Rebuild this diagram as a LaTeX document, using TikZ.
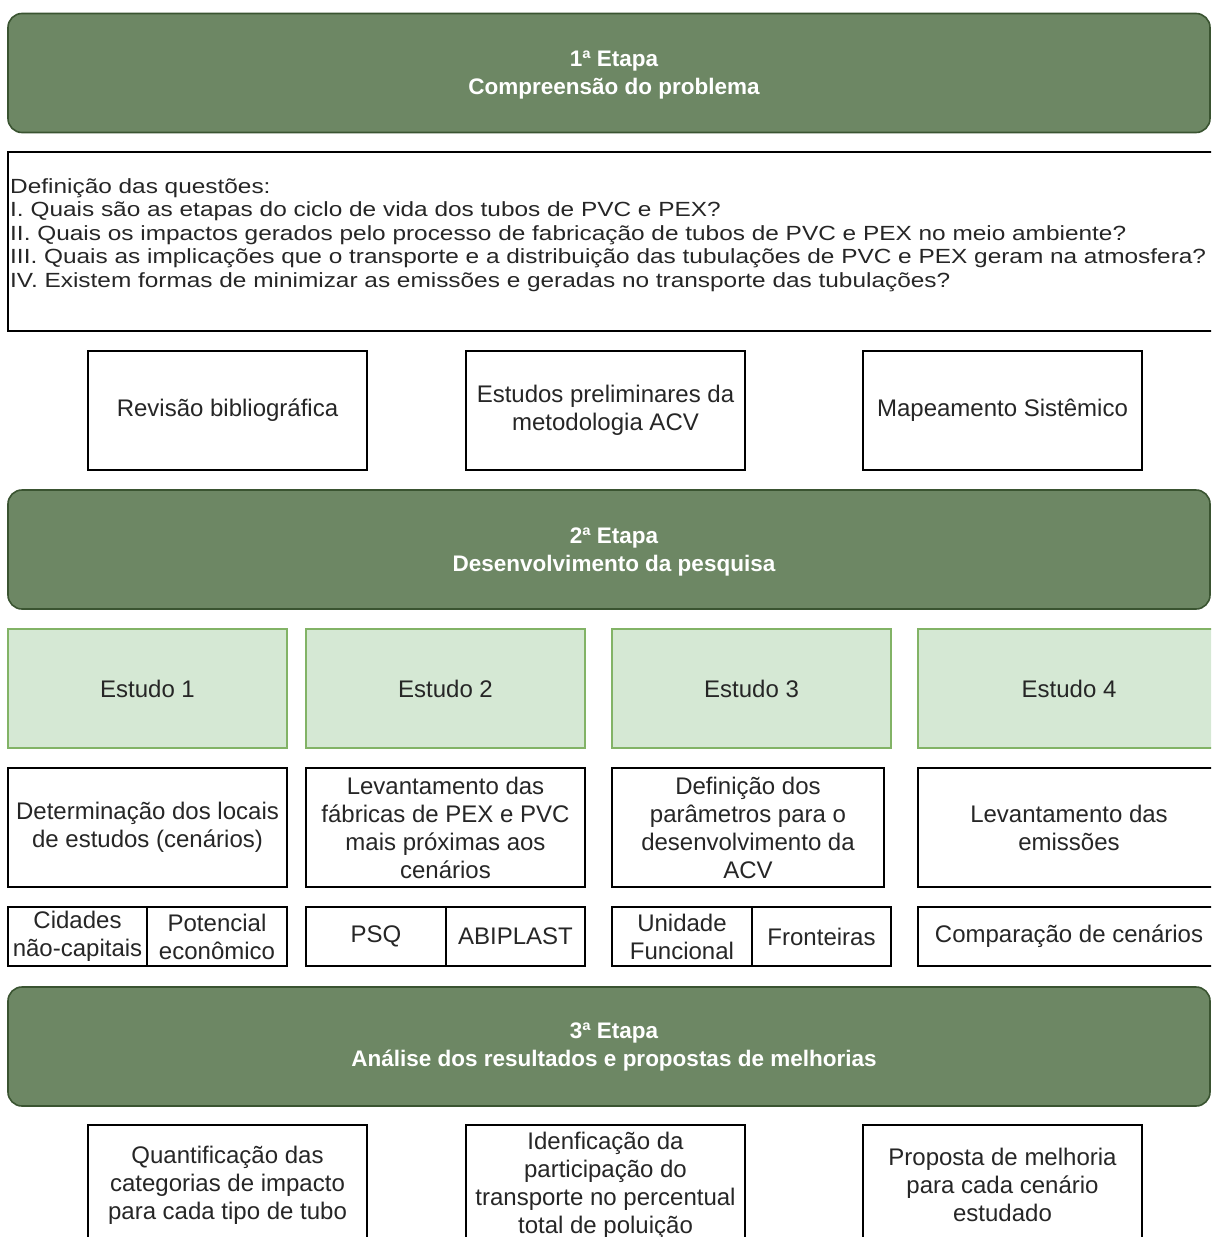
\documentclass[tikz,border=0pt]{standalone}
\usepackage{fontspec}
\setmainfont{Liberation Sans}
\newfontfamily\questionfont[FakeStretch=1.19]{Liberation Sans}
\definecolor{stagefill}{HTML}{6D8764}
\definecolor{stageline}{HTML}{3A5431}
\definecolor{studyfill}{HTML}{D5E8D4}
\definecolor{studyline}{HTML}{82B366}
\definecolor{ink}{HTML}{262626}
\begin{document}
\begin{tikzpicture}[x=1pt,y=-1pt,
  stage/.style={draw=stageline, fill=stagefill, line width=1.6pt, rounded corners=14pt,
    inner sep=0pt, minimum width=1202pt, minimum height=119pt},
  stagetext/.style={text=white, align=center, font=\bfseries\fontsize{22.5}{28}\selectfont},
  plainbox/.style={draw=black, fill=white, line width=1.8pt, align=center, inner sep=2pt,
    text=ink, font=\fontsize{24}{28}\selectfont},
  bigbox/.style={plainbox, minimum width=279pt, minimum height=119pt},
  study/.style={bigbox, draw=studyline, fill=studyfill, line width=1.4pt},
  subbox/.style={plainbox, minimum height=59pt}
]
\clip (0,0) rectangle (1211,1237);
\fill[white] (0,0) rectangle (1211,1237);

% Stage 1
\node[stage] (stage1) at (609,73) {};
\node[stagetext] (stage1t) at (614,75) {1ª Etapa\\Compreensão do problema};

% Research questions
\node[plainbox, minimum width=1208pt, minimum height=179pt] (questions) at (612,241.5) {};
\node[anchor=west, align=left, inner sep=0pt, text=ink,
      font=\questionfont\fontsize{20.5}{23.5}\selectfont] (qtext) at (10,235) {%
Definição das questões:\\
I. Quais são as etapas do ciclo de vida dos tubos de PVC e PEX?\\
II. Quais os impactos gerados pelo processo de fabricação de tubos de PVC e PEX no meio ambiente?\\
III. Quais as implicações que o transporte e a distribuição das tubulações de PVC e PEX geram na atmosfera?\\
IV. Existem formas de minimizar as emissões e geradas no transporte das tubulações?};

% Preliminary activities
\node[bigbox] (review) at (227.5,410.5) {Revisão bibliográfica};
\node[bigbox] (prelim) at (605.5,410.5) {Estudos preliminares da\\metodologia ACV};
\node[bigbox] (mapping) at (1002.5,410.5) {Mapeamento Sistêmico};

% Stage 2
\node[stage] (stage2) at (609,549.5) {};
\node[stagetext] (stage2t) at (614,551.5) {2ª Etapa\\Desenvolvimento da pesquisa};

% Studies
\node[study] (st1) at (147.5,688.5) {Estudo 1};
\node[study] (st2) at (445.5,688.5) {Estudo 2};
\node[study] (st3) at (751.5,688.5) {Estudo 3};
\node[study, minimum width=302pt] (st4) at (1069,688.5) {Estudo 4};

% Study descriptions
\node[bigbox] (d1) at (147.5,827.5) {Determinação dos locais\\de estudos (cenários)};
\node[bigbox] (d2) at (445.5,827.5) {Levantamento das\\fábricas de PEX e PVC\\mais próximas aos\\cenários};
\node[bigbox, minimum width=272pt] (d3) at (748,827.5) {Definição dos\\parâmetros para o\\desenvolvimento da\\ACV};
\node[bigbox, minimum width=302pt] (d4) at (1069,827.5) {Levantamento das\\emissões};

% Study details
\node[subbox, minimum width=139pt] (s1a) at (77.5,936.5) {Cidades\\não-capitais};
\node[subbox, minimum width=140pt] (s1b) at (217,936.5) {Potencial\\econômico};
\node[subbox, minimum width=140pt] (s2a) at (376,936.5) {PSQ};
\node[subbox, minimum width=139pt] (s2b) at (515.5,936.5) {ABIPLAST};
\node[subbox, minimum width=140pt] (s3a) at (682,936.5) {Unidade\\Funcional};
\node[subbox, minimum width=139pt] (s3b) at (821.5,936.5) {Fronteiras};
\node[subbox, minimum width=302pt] (s4) at (1069,936.5) {Comparação de cenários};

% Stage 3
\node[stage] (stage3) at (609,1046.5) {};
\node[stagetext] (stage3t) at (614,1046.5) {3ª Etapa\\Análise dos resultados e propostas de melhorias};

% Results
\node[bigbox, minimum height=120pt] (r1) at (227.5,1185) {Quantificação das\\categorias de impacto\\para cada tipo de tubo};
\node[bigbox, minimum height=120pt] (r2) at (605.5,1185) {Idenficação da\\participação do\\transporte no percentual\\total de poluição};
\node[bigbox, minimum height=120pt] (r3) at (1002.5,1185) {Proposta de melhoria\\para cada cenário\\estudado};
\end{tikzpicture}
\end{document}
